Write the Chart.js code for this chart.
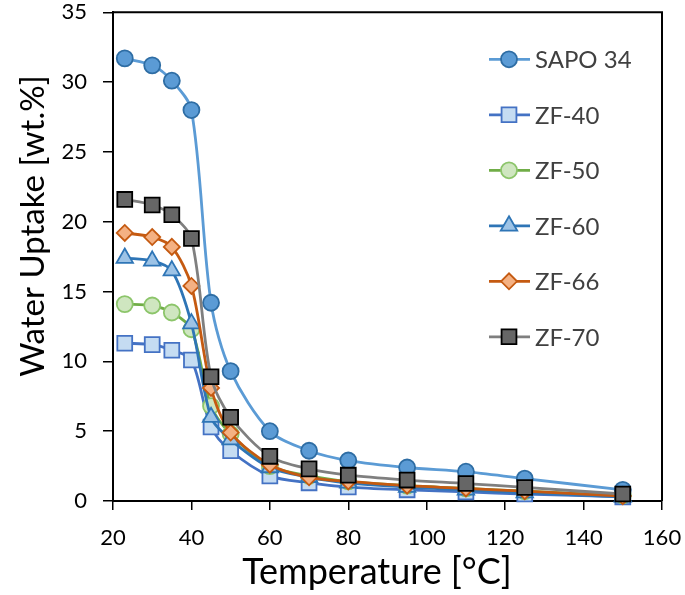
<!DOCTYPE html>
<html>
<head>
<meta charset="utf-8">
<script src="https://cdn.jsdelivr.net/npm/chart.js@4"></script>
<style>
body{margin:0;background:#fff}
#wrap{width:685px;height:595px;position:relative}
</style>
</head>
<body>
<div id="wrap"><canvas id="chart"></canvas></div>
<script>

// temperatures (°C)
let temps=[23,30,35,40,45,50,60,70,80,95,110,125,150]

let sapo34=[31.7,31.2,30.1,28.0,14.2,9.3,5.0,3.6,2.9,2.4,2.1,1.6,0.8]
let zf40=[11.3,11.2,10.8,10.1,5.3,3.6,1.8,1.3,1.0,0.8,0.65,0.5,0.3]
let zf50=[14.1,14.0,13.5,12.3,6.8,4.8,2.5,1.8,1.4,1.1,0.9,0.7,0.4]
let zf60=[17.4,17.2,16.5,12.7,6.0,4.4,2.4,1.7,1.3,1.0,0.8,0.6,0.3]
let zf66=[19.2,18.9,18.2,15.4,8.1,4.9,2.6,1.7,1.4,1.1,0.9,0.7,0.35]
let zf70=[21.6,21.2,20.5,18.8,8.9,6.0,3.2,2.3,1.85,1.5,1.25,0.97,0.5]

let names=["SAPO 34","ZF-40","ZF-50","ZF-60","ZF-66","ZF-70"]

let xTicks=[20,40,60,80,100,120,140,160]
let yTicks=[0,5,10,15,20,25,30,35]

let xTitle="Temperature [°C]"
let yTitle="Water Uptake [wt.%]"

function pts(vals){
return temps.map((t,i)=>({x:t,y:vals[i]}))
}

function series(i,vals,line,fill,border,style,radius){
return {
label:names[i],
data:pts(vals),
borderColor:line,
backgroundColor:fill,
borderWidth:2.8,
pointStyle:style,
pointRadius:radius,
pointBackgroundColor:fill,
pointBorderColor:border,
pointBorderWidth:1.8,
tension:0.3,
clip:false,
order:5-i
}
}

let datasets=[
series(0,sapo34,"#5B9BD5","#5B9BD5","#2E6DA4","circle",8),
series(1,zf40,"#4472C4","#C5DCF2","#4472C4","rect",10.5),
series(2,zf50,"#70AD47","#CFE6C0","#8CC56A","circle",8),
series(3,zf60,"#2E75B6","#9DC3E6","#2E75B6","triangle",9.5),
series(4,zf66,"#C55A11","#F4B183","#C55A11","rectRot",8),
series(5,zf70,"#7F7F7F","#666666","#000000","rect",10.5)
]

// frame on top/right, axis titles, and the legend inside the plot area
let boxLegend={
id:"boxLegend",
afterDraw(chart){
let ctx=chart.ctx
let a=chart.chartArea
ctx.save()
ctx.strokeStyle="#000"
ctx.lineWidth=2
ctx.beginPath()
ctx.moveTo(a.left,a.top)
ctx.lineTo(a.right,a.top)
ctx.lineTo(a.right,a.bottom)
ctx.stroke()

ctx.fillStyle="#000"
ctx.font="36px Lato"
ctx.textAlign="center"
ctx.textBaseline="alphabetic"
ctx.fillText(xTitle,a.left+264,584)

ctx.save()
ctx.translate(44,226)
ctx.rotate(-Math.PI/2)
ctx.font="33px Lato"
ctx.fillText(yTitle,0,0)
ctx.restore()

let x0=a.left+376
let y0=a.top+47
let step=55.5
chart.data.datasets.forEach((ds,i)=>{
let y=y0+i*step
ctx.strokeStyle=ds.borderColor
ctx.lineWidth=2.8
ctx.beginPath()
ctx.moveTo(x0,y)
ctx.lineTo(x0+41,y)
ctx.stroke()
ctx.fillStyle=ds.pointBackgroundColor
ctx.strokeStyle=ds.pointBorderColor
ctx.lineWidth=ds.pointBorderWidth
Chart.helpers.drawPoint(ctx,{pointStyle:ds.pointStyle,radius:ds.pointRadius,borderWidth:ds.pointBorderWidth,rotation:0},x0+20,y)
ctx.fillStyle="#404040"
ctx.font="24px Lato"
ctx.textBaseline="middle"
ctx.textAlign="left"
ctx.fillText(ds.label,x0+46,y+1)
})
ctx.restore()
}
}

new Chart(document.getElementById("chart"),{
type:"line",
data:{datasets:datasets},
options:{
responsive:true,
maintainAspectRatio:false,
animation:false,
layout:{padding:{top:10,right:23,left:0,bottom:0}},
plugins:{legend:{display:false},tooltip:{enabled:false}},
scales:{
x:{
type:"linear",
min:20,max:160,
afterFit(s){s.height=94;s.paddingLeft=0;s.paddingRight=0},
afterBuildTicks(s){s.ticks=xTicks.map(v=>({value:v}))},
ticks:{color:"#000",font:{family:"Lato",size:22},padding:15,maxRotation:0},
grid:{drawOnChartArea:false,drawTicks:true,tickLength:9,color:"#000",lineWidth:1.5},
border:{color:"#000",width:2},
title:{display:false}
},
y:{
min:0,max:35,
afterFit(s){s.width=113;s.paddingTop=0;s.paddingBottom=0},
afterBuildTicks(s){s.ticks=yTicks.map(v=>({value:v}))},
ticks:{color:"#000",font:{family:"Lato",size:22},padding:16},
grid:{drawOnChartArea:false,drawTicks:true,tickLength:10,color:"#000",lineWidth:1.5},
border:{color:"#000",width:2},
title:{display:false}
}
}
},
plugins:[boxLegend]
})

</script>
</body>
</html>
